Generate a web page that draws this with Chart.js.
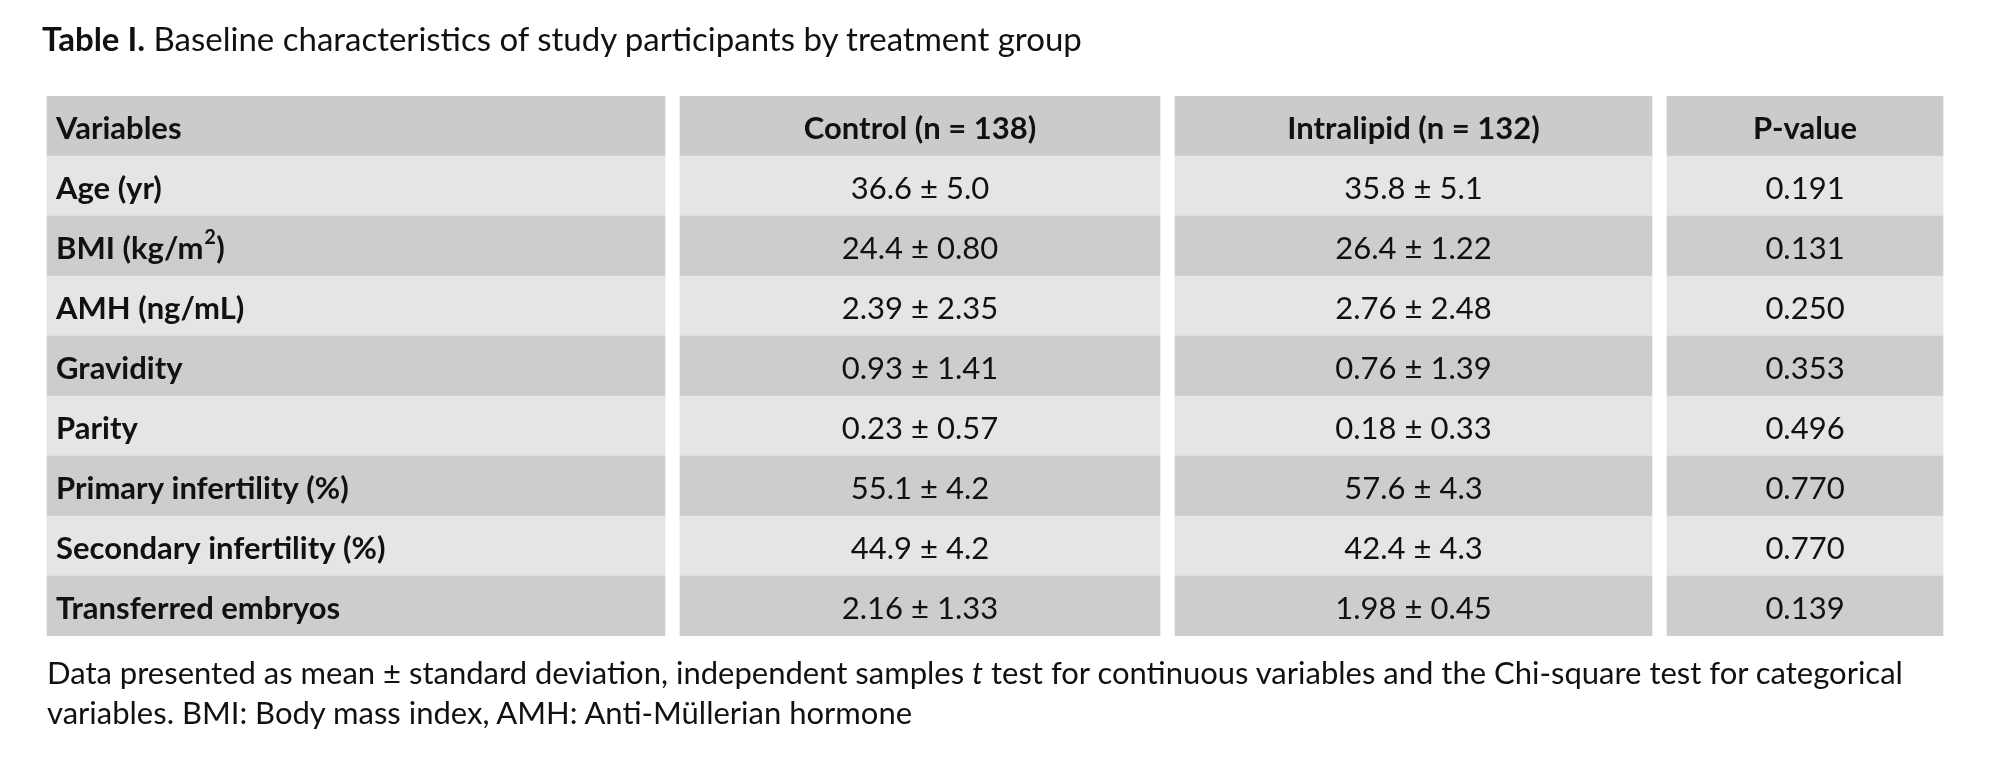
<!DOCTYPE html>
<html>
<head>
<meta charset="utf-8">
<script src="https://cdn.jsdelivr.net/npm/chart.js@4"></script>
<style>
  body { margin: 0; background: #fff; font-family: Lato, sans-serif; }
  #wrap { position: relative; width: 2000px; height: 760px; }
  #title { position: absolute; left: 42px; top: 18px; font-size: 33px; color: #111; }
  #note { position: absolute; left: 47px; top: 652px; font-size: 31px; line-height: 40px; color: #111; width: 1940px; }
  canvas { position: absolute; left: 0; top: 0; }
</style>
</head>
<body>
<div id="wrap">
  <canvas id="tbl" width="2000" height="760"></canvas>
  <div id="title"><b>Table I.</b> Baseline characteristics of study participants by treatment group</div>
  <div id="note">Data presented as mean &plusmn; standard deviation, independent samples <i>t</i> test for continuous variables and the Chi-square test for categorical variables. BMI: Body mass index, AMH: Anti-Müllerian hormone</div>
</div>
<script>
const headers = ['Variables', 'Control (n = 138)', 'Intralipid (n = 132)', 'P-value'];
const variables = ['Age (yr)', 'BMI (kg/m²)', 'AMH (ng/mL)', 'Gravidity', 'Parity',
  'Primary infertility (%)', 'Secondary infertility (%)', 'Transferred embryos'];
const control = ['36.6 ± 5.0', '24.4 ± 0.80', '2.39 ± 2.35', '0.93 ± 1.41', '0.23 ± 0.57',
  '55.1 ± 4.2', '44.9 ± 4.2', '2.16 ± 1.33'];
const intralipid = ['35.8 ± 5.1', '26.4 ± 1.22', '2.76 ± 2.48', '0.76 ± 1.39', '0.18 ± 0.33',
  '57.6 ± 4.3', '42.4 ± 4.3', '1.98 ± 0.45'];
const pValues = ['0.191', '0.131', '0.250', '0.353', '0.496', '0.770', '0.770', '0.139'];

// column spans in pixel units of the x scale
const colEdges = [[47, 665], [680, 1160], [1175, 1652], [1667, 1943]];
const rowLabels = ['header'].concat(variables);
const rowColor = (i) => (i === 0 ? '#cbcbcb' : (i % 2 === 1 ? '#e5e5e5' : '#cdcdcd'));

const columns = [variables, control, intralipid, pValues];

const cellText = {
  id: 'cellText',
  afterDatasetsDraw(chart) {
    const { ctx, scales: { x, y } } = chart;
    ctx.save();
    ctx.fillStyle = '#111';
    ctx.textBaseline = 'middle';
    rowLabels.forEach((_, r) => {
      const py = y.getPixelForValue(r) + 3;
      columns.forEach((col, c) => {
        const text = r === 0 ? headers[c] : col[r - 1];
        const bold = r === 0 || c === 0;
        ctx.font = (bold ? 'bold ' : '') + '31px Lato, sans-serif';
        if (c === 0) {
          ctx.textAlign = 'left';
          const px = x.getPixelForValue(colEdges[0][0]) + 9;
          if (text.includes('²')) {
            const [a, b] = text.split('²');
            ctx.fillText(a, px, py);
            const w = ctx.measureText(a).width;
            ctx.font = 'bold 20px Lato, sans-serif';
            ctx.fillText('2', px + w + 1, py - 11);
            ctx.font = 'bold 31px Lato, sans-serif';
            ctx.fillText(b, px + w + 13, py);
          } else {
            ctx.fillText(text, px, py);
          }
        } else {
          ctx.textAlign = 'center';
          const mid = (colEdges[c][0] + colEdges[c][1]) / 2;
          ctx.fillText(text, x.getPixelForValue(mid), py);
        }
      });
    });
    ctx.restore();
  }
};

new Chart(document.getElementById('tbl'), {
  type: 'bar',
  data: {
    labels: rowLabels,
    datasets: colEdges.map((edge) => ({
      data: rowLabels.map(() => edge),
      backgroundColor: rowLabels.map((_, i) => rowColor(i)),
      borderWidth: 0,
      categoryPercentage: 1,
      barPercentage: 1,
      grouped: false
    }))
  },
  options: {
    indexAxis: 'y',
    responsive: false,
    animation: false,
    layout: { padding: { top: 96, bottom: 124, left: 0, right: 0 } },
    scales: {
      x: { type: 'linear', min: 0, max: 2000, display: false },
      y: { display: false }
    },
    plugins: { legend: { display: false }, tooltip: { enabled: false } }
  },
  plugins: [cellText]
});
</script>
</body>
</html>
